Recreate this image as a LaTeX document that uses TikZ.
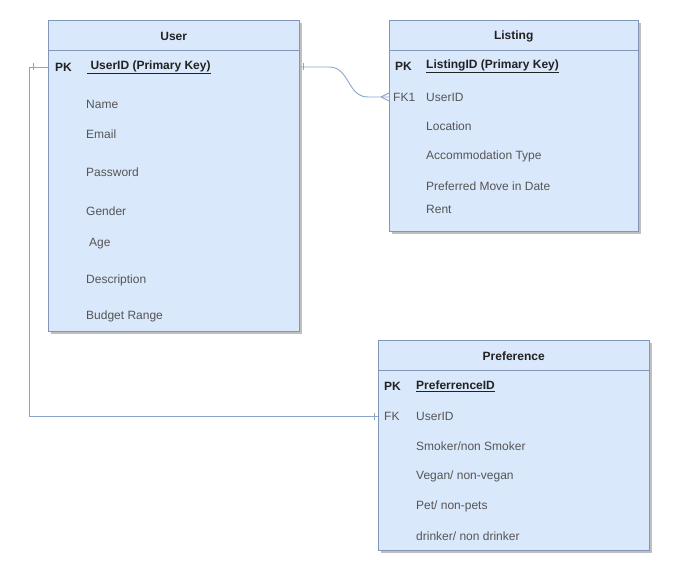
\documentclass[tikz,border=0pt]{standalone}
\usepackage{fontspec}
\setmainfont{Liberation Sans}
\usetikzlibrary{shadows}
\definecolor{boxfill}{HTML}{DAE8FC}
\definecolor{boxline}{HTML}{8496B8}
\definecolor{relline}{HTML}{8AA4CB}
\definecolor{attrtext}{HTML}{555555}
\definecolor{keytext}{HTML}{222222}
\tikzset{
  entity/.style={draw=boxline, fill=boxfill, anchor=north west, inner sep=0pt,
    drop shadow={shadow xshift=2.5pt, shadow yshift=-2.5pt, fill=black, opacity=0.25}},
  sepline/.style={draw=boxline},
  title/.style={font=\fontsize{12}{14}\bfseries\selectfont, text=keytext, inner sep=0pt},
  attr/.style={font=\fontsize{12}{14}\selectfont, text=attrtext, anchor=west, inner sep=0pt},
  keycol/.style={attr, font=\fontsize{12}{14}\bfseries\selectfont, text=keytext},
  fkcol/.style={attr},
  rel/.style={draw=relline, line width=0.9pt}
}
\begin{document}
\begin{tikzpicture}[x=1pt, y=-1pt]
    \useasboundingbox (0,0) rectangle (675,577);
    % User table
    \node[entity, minimum width=251pt, minimum height=311pt] (user) at (48,20) {};
    \draw[sepline] ([yshift=-30pt]user.north west) -- ([yshift=-30pt]user.north east);
    \node[title] (usertitle) at ([yshift=-16pt]user.north) {User};
    \node[keycol] (upk) at (55,67) {PK};
    \node[keycol] (uid) at (87,67) {\underline{ UserID (Primary Key)}};
    \node[attr] (uname) at (86,104) {Name};
    \node[attr] (uemail) at (86,134) {Email};
    \node[attr] (upass) at (86,172) {Password};
    \node[attr] (ugender) at (86,211) {Gender};
    \node[attr] (uage) at (89,244) {Age};
    \node[attr] (udesc) at (86,280) {Description};
    \node[attr] (ubudget) at (86,316) {Budget Range};
    % Listing table
    \node[entity, minimum width=249pt, minimum height=211pt] (listing) at (389,20) {};
    \draw[sepline] ([yshift=-30pt]listing.north west) -- ([yshift=-30pt]listing.north east);
    \node[title] (listingtitle) at ([yshift=-16pt]listing.north) {Listing};
    \node[keycol] (lpk) at (395,66) {PK};
    \node[keycol] (lid) at (426,66) {\underline{ListingID (Primary Key)}};
    \node[fkcol] (lfk) at (393,97) {FK1};
    \node[attr] (luser) at (426,97) {UserID};
    \node[attr] (lloc) at (426,126) {Location};
    \node[attr] (ltype) at (426,156) {Accommodation Type};
    \node[attr] (ldate) at (426,186) {Preferred Move in Date};
    \node[attr] (lrent) at (426,209) {Rent};
    % Preference table
    \node[entity, minimum width=271pt, minimum height=210pt] (pref) at (378,340) {};
    \draw[sepline] ([yshift=-30pt]pref.north west) -- ([yshift=-30pt]pref.north east);
    \node[title] (preftitle) at ([yshift=-16pt]pref.north) {Preference};
    \node[keycol] (ppk) at (384,386) {PK};
    \node[keycol] (pid) at (416,386) {\underline{PreferrenceID}};
    \node[fkcol] (pfk) at (384,416) {FK};
    \node[attr] (puser) at (416,416) {UserID};
    \node[attr] (psmoke) at (416,446) {Smoker/non Smoker};
    \node[attr] (pvegan) at (416,476) {Vegan/ non-vegan};
    \node[attr] (ppet) at (416,506) {Pet/ non-pets};
    \node[attr] (pdrink) at (416,536) {drinker/ non drinker};
    % User -> Listing (one to many)
    \coordinate (bendA) at (329,67);
    \coordinate (bendB) at (368,97);
    \draw[rel] (user.east |- uid) -- (bendA) .. controls (350,67) and (347,97) .. (bendB) -- (listing.west |- lfk);
    \draw[rel] ([xshift=4pt]user.east |- uid) ++(0,-3.5) -- ++(0,7);
    \draw[rel] ([xshift=-8pt]listing.west |- lfk) -- ([yshift=4pt]listing.west |- lfk);
    \draw[rel] ([xshift=-8pt]listing.west |- lfk) -- ([yshift=-4pt]listing.west |- lfk);
    % User -> Preference (one to one)
    \coordinate (cornerA) at (29,67);
    \coordinate (cornerB) at (29,416);
    \draw[rel] (user.west |- uid) -- (cornerA) -- (cornerB) -- (pref.west |- pfk);
    \draw[rel] ([xshift=-15pt]user.west |- uid) ++(0,-3.5) -- ++(0,7);
    \draw[rel] ([xshift=-4pt]pref.west |- pfk) ++(0,-3.5) -- ++(0,7);
\end{tikzpicture}
\end{document}
